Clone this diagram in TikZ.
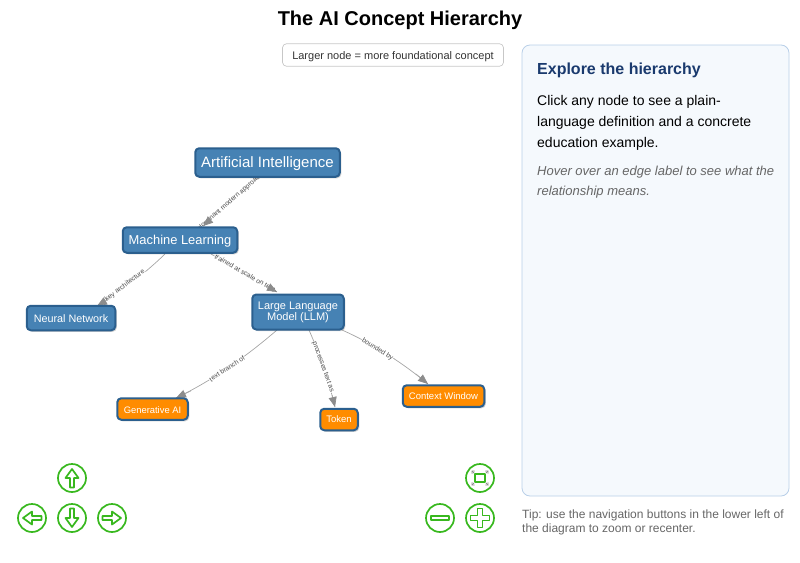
\documentclass[tikz,border=0pt]{standalone}
\usepackage{fontspec}
\setmainfont{Liberation Sans}
\usetikzlibrary{arrows.meta,shadows,calc}
\definecolor{nodeblue}{HTML}{4682B4}
\definecolor{nodeedge}{HTML}{2B5F8E}
\definecolor{nodeorange}{HTML}{FF8C00}
\definecolor{navgreen}{HTML}{38B81E}
\definecolor{panelfill}{HTML}{F5F9FD}
\definecolor{paneledge}{HTML}{B8CFE8}
\definecolor{headblue}{HTML}{1A3A6E}
\definecolor{edgegray}{HTML}{8C8C8C}
\definecolor{shaftgray}{HTML}{A6A6A6}
\definecolor{labelgray}{HTML}{4A4A4A}
\tikzset{
 x=1pt,y=-1pt,
 concept/.style={draw=nodeedge,line width=2pt,rounded corners=4pt,text=white,align=center,inner sep=0pt,
   drop shadow={shadow xshift=1.5pt,shadow yshift=-1.5pt,opacity=.18,fill=black}},
 blue concept/.style={concept,fill=nodeblue},
 orange concept/.style={concept,fill=nodeorange},
 link/.style={draw=shaftgray,line width=.7pt},
 linkhead/.style={draw=shaftgray,line width=.7pt,-{Triangle[length=10pt,width=8pt,color=edgegray,fill=edgegray]}},
 edgelabel/.style={font=\fontsize{6.8}{7}\selectfont,text=labelgray,inner sep=.5pt,fill=white},
 navring/.style={circle,draw=navgreen,line width=1.7pt,fill=white,minimum size=28pt,inner sep=0pt},
 navglyph/.style={draw=navgreen,line width=1.7pt,line join=round,fill=white},
}
\newcommand{\quadlink}[3]{\draw[link] (#1) .. controls ($(#1)!.667!(#3)$) and ($(#2)!.667!(#3)$) .. (#2);}
\begin{document}
\begin{tikzpicture}
\useasboundingbox (0,0) rectangle (800,562);
\node[font=\bfseries\fontsize{20}{22}\selectfont,text=black] (title) at (400,20) {The AI Concept Hierarchy};
\node[draw=black!22,rounded corners=4pt,line width=.7pt,minimum width=221pt,minimum height=22.5pt,inner sep=0pt,text depth=0pt,text height=8.5pt,font=\fontsize{11}{13}\selectfont,text=black!80] (legend) at (393,55) {Larger node = more foundational concept};
\node[draw=paneledge,fill=panelfill,rounded corners=8pt,line width=.8pt,minimum width=267pt,minimum height=451pt,inner sep=0pt] (panel) at (655.5,270.5) {};
\node[anchor=west,inner sep=0pt,font=\bfseries\fontsize{16}{18}\selectfont,text=headblue] (head) at (537,70.5) {Explore the hierarchy};
\node[anchor=north west,align=left,inner sep=0pt,font=\fontsize{14}{21}\selectfont,text=black] (intro) at (537,95) {Click any node to see a plain-\\language definition and a concrete\\education example.};
\node[anchor=north west,align=left,inner sep=0pt,font=\itshape\fontsize{13}{20}\selectfont,text=black!60] (hint) at (537,165.5) {Hover over an edge label to see what the\\relationship means.};
\node[anchor=north west,align=left,inner sep=0pt,font=\fontsize{12}{14}\selectfont,text=black!60] (tip) at (522,510) {Tip: use the navigation buttons in the lower left of\\the diagram to zoom or recenter.};
\coordinate (ai) at (267.5,162.5);
\coordinate (ml) at (180,240);
\coordinate (nn) at (71,318);
\coordinate (llm) at (298,312);
\coordinate (gen) at (152.5,409);
\coordinate (tok) at (339,419.5);
\coordinate (cw) at (443.5,396);
\coordinate (aiS) at (258,177);
\coordinate (mlN) at (203,226);
\coordinate (c1) at (231,202);
\coordinate (mlSW) at (165,254);
\coordinate (nnN) at (97,306);
\coordinate (c2) at (134,284);
\coordinate (mlSE) at (211,254);
\coordinate (llmN) at (277,292);
\coordinate (c3) at (244,273);
\coordinate (llmSW) at (277,330);
\coordinate (genN) at (176,398);
\coordinate (c4) at (226,374);
\coordinate (llmS) at (309,330);
\coordinate (tokN) at (335,407);
\coordinate (c5) at (325.5,367.5);
\coordinate (llmSE) at (342,330);
\coordinate (cwN) at (428,384);
\coordinate (c6) at (387,350);
\quadlink{aiS}{mlN}{c1}
\quadlink{mlSW}{nnN}{c2}
\quadlink{mlSE}{llmN}{c3}
\quadlink{llmSW}{genN}{c4}
\quadlink{llmS}{tokN}{c5}
\quadlink{llmSE}{cwN}{c6}
\node[edgelabel,rotate=41] (e1) at (230.5,201.5) {dominant modern approach};
\node[edgelabel,rotate=37] (e2) at (125,285.5) {key architecture};
\node[edgelabel,rotate=-30] (e3) at (245,273) {trained at scale on text};
\node[edgelabel,rotate=34] (e4) at (227,368.5) {text branch of};
\node[edgelabel,rotate=-70] (e5) at (323,367) {processes text as};
\node[edgelabel,rotate=-32] (e6) at (377.5,349) {bounded by};
\draw[linkhead] ($(c1)!.7!(mlN)$) -- (mlN);
\draw[linkhead] ($(c2)!.7!(nnN)$) -- (nnN);
\draw[linkhead] ($(c3)!.7!(llmN)$) -- (llmN);
\draw[linkhead] ($(c4)!.7!(genN)$) -- (genN);
\draw[linkhead] ($(c5)!.7!(tokN)$) -- (tokN);
\draw[linkhead] ($(c6)!.7!(cwN)$) -- (cwN);
\node[blue concept,minimum width=144.5pt,minimum height=28.5pt,text depth=1pt,font=\fontsize{15}{16}\selectfont] (nAI) at (ai) {Artificial Intelligence};
\node[blue concept,minimum width=114.5pt,minimum height=25.5pt,text depth=1pt,font=\fontsize{12.9}{14}\selectfont] (nML) at (ml) {Machine Learning};
\node[blue concept,minimum width=88.5pt,minimum height=24.5pt,text height=9.5pt,text depth=0pt,font=\fontsize{10.8}{12}\selectfont] (nNN) at (nn) {Neural Network};
\node[blue concept,minimum width=91.5pt,minimum height=35pt,font=\fontsize{11}{11}\selectfont] (nLLM) at (llm) {Large Language\\Model (LLM)};
\node[orange concept,minimum width=70.5pt,minimum height=21.5pt,text height=9pt,text depth=0pt,font=\fontsize{9.4}{11}\selectfont] (nGen) at (gen) {Generative AI};
\node[orange concept,minimum width=37.5pt,minimum height=21.5pt,font=\fontsize{9.5}{11}\selectfont] (nTok) at (tok) {Token};
\node[orange concept,minimum width=81.5pt,minimum height=21.5pt,font=\fontsize{9.5}{11}\selectfont] (nCW) at (cw) {Context Window};
% navigation buttons
\node[navring] (up) at (72,478) {};
\node[navring] (left) at (32,518) {};
\node[navring] (down) at (72,518) {};
\node[navring] (right) at (112,518) {};
\node[navring] (fit) at (480,478) {};
\node[navring] (minus) at (440,518) {};
\node[navring] (plus) at (480,518) {};
\draw[navglyph] ($(up)+(-2,9.5)$) -- ++(0,-9.5) -- ++(-4.5,0) -- ++(6.5,-9) -- ++(6.5,9) -- ++(-4.5,0) -- ++(0,9.5) -- cycle;
\draw[navglyph] ($(down)+(-2,-9.5)$) -- ++(0,9.5) -- ++(-4.5,0) -- ++(6.5,9) -- ++(6.5,-9) -- ++(-4.5,0) -- ++(0,-9.5) -- cycle;
\draw[navglyph] ($(left)+(9.5,-2)$) -- ++(-9.5,0) -- ++(0,-4.5) -- ++(-9,6.5) -- ++(9,6.5) -- ++(0,-4.5) -- ++(9.5,0) -- cycle;
\draw[navglyph] ($(right)+(-9.5,-2)$) -- ++(9.5,0) -- ++(0,-4.5) -- ++(9,6.5) -- ++(-9,6.5) -- ++(0,-4.5) -- ++(-9.5,0) -- cycle;
\draw[navglyph] ($(minus)+(-9,-2.2)$) rectangle ($(minus)+(9,2.2)$);
\draw[navglyph] ($(plus)+(-2.4,-9.5)$) -- ++(4.8,0) -- ++(0,7.1) -- ++(7.1,0) -- ++(0,4.8) -- ++(-7.1,0) -- ++(0,7.1) -- ++(-4.8,0) -- ++(0,-7.1) -- ++(-7.1,0) -- ++(0,-4.8) -- ++(7.1,0) -- cycle;
\draw[navglyph] ($(fit)+(-5,-4)$) rectangle ($(fit)+(5,4)$);
\foreach \sx/\sy in {-1/-1,1/-1,-1/1,1/1}
  \draw[draw=black!45,line width=.8pt,-{Straight Barb[length=2pt,width=3.5pt]}] ($(fit)+(\sx*6,\sy*5)$) -- ($(fit)+(\sx*8.5,\sy*7.5)$);
\end{tikzpicture}
\end{document}
